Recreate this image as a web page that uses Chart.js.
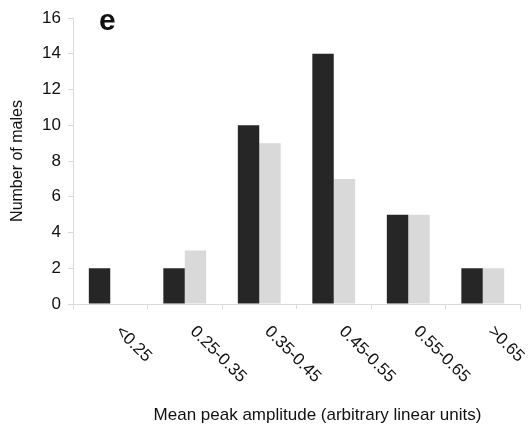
<!DOCTYPE html>
<html>
<head>
<meta charset="utf-8">
<script src="https://cdn.jsdelivr.net/npm/chart.js@4/dist/chart.umd.min.js"></script>
<style>
  html, body { margin: 0; padding: 0; background: #fff; }
  #wrap { width: 528px; height: 429px; }
</style>
</head>
<body>
<div id="wrap"><canvas id="chart"></canvas></div>
<script>
const categories = ['<0.25', '0.25-0.35', '0.35-0.45', '0.45-0.55', '0.55-0.65', '>0.65'];
const darkCounts = [2, 2, 10, 14, 5, 2];
const lightCounts = [0, 3, 9, 7, 5, 2];
const yTicks = [0, 2, 4, 6, 8, 10, 12, 14, 16];

const panelLetter = 'e';
const xTitle = 'Mean peak amplitude (arbitrary linear units)';
const yTitle = 'Number of males';

const fontFamily = '"Liberation Sans", Arial, sans-serif';
const axisGrey = '#d9d9d9';

// x tick labels run down-right from each category, so draw them by hand
const slantedLabels = {
  id: 'slantedLabels',
  afterDraw(chart) {
    const { ctx, chartArea, scales } = chart;
    const xScale = scales.x;

    ctx.save();
    ctx.fillStyle = '#111';
    ctx.font = `17px ${fontFamily}`;
    ctx.textAlign = 'left';
    ctx.textBaseline = 'middle';
    categories.forEach((label, i) => {
      const x = xScale.getPixelForValue(i) + 8;
      const y = chartArea.bottom + 25;
      ctx.save();
      ctx.translate(x, y);
      ctx.rotate(Math.PI / 4);
      ctx.fillText(label, 0, 0);
      ctx.restore();
    });

    ctx.textAlign = 'center';
    ctx.fillText(xTitle, (chartArea.left + chartArea.right) / 2 + 21, chartArea.bottom + 111);

    ctx.font = `bold 30px ${fontFamily}`;
    ctx.textAlign = 'left';
    ctx.textBaseline = 'alphabetic';
    ctx.fillText(panelLetter, chartArea.left + 26, chartArea.top + 12);
    ctx.restore();
  }
};

const chartContext = document.getElementById('chart').getContext('2d');

new Chart(chartContext, {
  type: 'bar',
  data: {
    labels: categories,
    datasets: [
      {
        label: 'dark',
        data: darkCounts,
        backgroundColor: '#262626',
        categoryPercentage: 0.575,
        barPercentage: 1
      },
      {
        label: 'light',
        data: lightCounts,
        backgroundColor: '#d9d9d9',
        categoryPercentage: 0.575,
        barPercentage: 1
      }
    ]
  },
  options: {
    responsive: true,
    maintainAspectRatio: false,
    animation: false,
    layout: { padding: { left: 0, top: 18, right: 8, bottom: 0 } },
    plugins: {
      legend: { display: false },
      tooltip: { enabled: false }
    },
    scales: {
      x: {
        grid: {
          offset: true,
          drawOnChartArea: false,
          drawTicks: true,
          tickLength: 5,
          color: axisGrey
        },
        border: { color: axisGrey },
        ticks: { display: false },
        afterFit: scale => { scale.height = 125; }
      },
      y: {
        min: 0,
        max: 16,
        afterBuildTicks: scale => {
          scale.ticks = yTicks.map(value => ({ value }));
        },
        grid: {
          drawOnChartArea: false,
          drawTicks: true,
          tickLength: 5,
          color: axisGrey
        },
        border: { color: axisGrey },
        ticks: {
          padding: 7,
          color: '#111',
          font: { family: fontFamily, size: 17 }
        },
        title: {
          display: true,
          text: yTitle,
          color: '#111',
          padding: { top: 8, bottom: 0 },
          font: { family: fontFamily, size: 16 }
        },
        afterFit: scale => { scale.width = 73; }
      }
    }
  },
  plugins: [slantedLabels]
});
</script>
</body>
</html>
